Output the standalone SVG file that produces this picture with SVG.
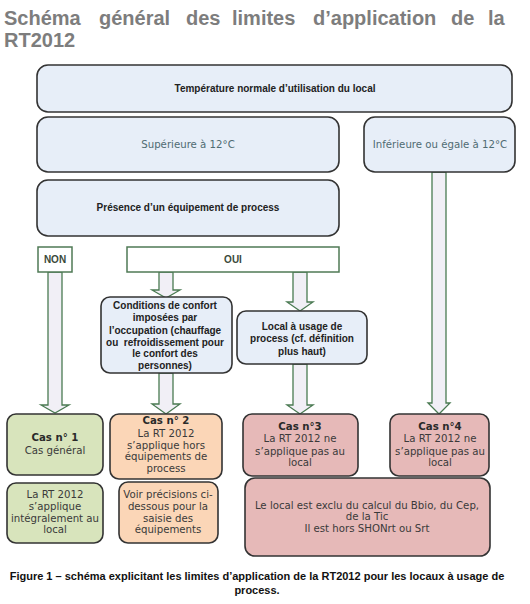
<svg xmlns="http://www.w3.org/2000/svg" width="530" height="604" viewBox="0 0 530 604">
<style>
.title{font-family:"Liberation Sans",Arial,sans-serif;font-weight:bold;font-size:20px;fill:#7d7d7d}
.bx{fill:#e7eef8;stroke:#333;stroke-width:1.6}
.g{fill:#d8e4bc;stroke:#333;stroke-width:1.6}
.o{fill:#fbd6b7;stroke:#333;stroke-width:1.6}
.r{fill:#e6b9b8;stroke:#333;stroke-width:1.6}
.sel{fill:#fff;stroke:#4f7a55;stroke-width:1.5}
.arr{fill:#f1eff6;stroke:#4a7a52;stroke-width:1.3;stroke-linejoin:miter}
.tb{font-family:"Liberation Sans",Arial,sans-serif;font-weight:bold;font-size:10px;fill:#222;text-anchor:middle}
.tv{font-family:"DejaVu Sans",Verdana,sans-serif;font-size:10.2px;fill:#4f6b72;text-anchor:middle}
.tc{font-family:"DejaVu Sans",Verdana,sans-serif;font-size:10.2px;fill:#3a3a3a;text-anchor:middle}
.tcb{font-family:"DejaVu Sans",Verdana,sans-serif;font-size:10.2px;font-weight:bold;fill:#2a2a2a;text-anchor:middle}
.sl{font-family:"Liberation Sans",Arial,sans-serif;font-weight:bold;font-size:10px;fill:#3b4a3a;text-anchor:middle}
.cap{font-family:"Liberation Sans",Arial,sans-serif;font-weight:bold;font-size:11px;fill:#111;text-anchor:middle}
</style>
<g id="title">
<text class="title" x="4" y="25">Schéma</text>
<text class="title" x="99" y="25">général</text>
<text class="title" x="186" y="25">des</text>
<text class="title" x="232" y="25">limites</text>
<text class="title" x="313" y="25">d’application</text>
<text class="title" x="451" y="25">de</text>
<text class="title" x="488" y="25">la</text>
<text class="title" x="4" y="47">RT2012</text>
</g>
<g id="connectors">
<path class="arr" d="M48,272 V405 H41 L55,413 L69,405 H62 V272 Z"/>
<path class="arr" d="M159,272 V290 H152 L166,298 L180,290 H173 V272 Z"/>
<path class="arr" d="M293,272 V302 H287 L300,311 L313,302 H307 V272 Z"/>
<path class="arr" d="M159,373 V404 H152 L166,414 L180,404 H173 V373 Z"/>
<path class="arr" d="M293,364 V405 H287 L300,414 L313,405 H307 V364 Z"/>
<path class="arr" d="M432,172 V403 H428 L439,414 L450,403 H446 V172 Z"/>
</g>
<g id="temperature">
<rect class="bx" x="37" y="65" width="475" height="47" rx="11"/>
<text class="tb" x="275" y="92">Température normale d’utilisation du local</text>
</g>
<g id="superieure">
<rect class="bx" x="37" y="117" width="302" height="55" rx="11"/>
<text class="tv" x="188" y="148">Supérieure à 12°C</text>
</g>
<g id="inferieure">
<rect class="bx" x="364" y="117" width="151" height="55" rx="11"/>
<text class="tv" x="440" y="148">Inférieure ou égale à 12°C</text>
</g>
<g id="presence">
<rect class="bx" x="37" y="180" width="302" height="56" rx="11"/>
<text class="tb" x="188" y="211">Présence d’un équipement de process</text>
</g>
<g id="non">
<rect class="sel" x="38" y="247" width="34" height="25"/>
<text class="sl" x="55" y="263">NON</text>
</g>
<g id="oui">
<rect class="sel" x="127" y="247" width="212" height="25"/>
<text class="sl" x="233" y="263">OUI</text>
</g>
<g id="conditions">
<rect class="bx" x="101" y="297" width="131" height="76" rx="9"/>
<text class="tb" x="165" y="309">Conditions de confort</text>
<text class="tb" x="165" y="321">imposées par</text>
<text class="tb" x="165" y="334">l’occupation (chauffage</text>
<text class="tb" x="165" y="346" xml:space="preserve">ou  refroidissement pour</text>
<text class="tb" x="165" y="357">le confort des</text>
<text class="tb" x="165" y="369">personnes)</text>
</g>
<g id="local">
<rect class="bx" x="237" y="311" width="130" height="53" rx="9"/>
<text class="tb" x="302" y="330">Local à usage de</text>
<text class="tb" x="302" y="342">process (cf. définition</text>
<text class="tb" x="302" y="355">plus haut)</text>
</g>
<g id="cas1">
<rect class="g" x="7" y="414" width="96" height="61" rx="9"/>
<text class="tcb" x="55" y="441">Cas n° 1</text>
<text class="tc" x="55" y="454">Cas général</text>
</g>
<g id="cas1detail">
<rect class="g" x="7" y="483" width="96" height="60" rx="9"/>
<text class="tc" x="55" y="498">La RT 2012</text>
<text class="tc" x="55" y="510">s’applique</text>
<text class="tc" x="55" y="522">intégralement au</text>
<text class="tc" x="55" y="533">local</text>
</g>
<g id="cas2">
<rect class="o" x="110" y="414" width="112" height="65" rx="9"/>
<text class="tcb" x="166" y="424">Cas n° 2</text>
<text class="tc" x="166" y="437">La RT 2012</text>
<text class="tc" x="166" y="449">s’applique hors</text>
<text class="tc" x="166" y="460">équipements de</text>
<text class="tc" x="166" y="472">process</text>
</g>
<g id="cas2detail">
<rect class="o" x="119" y="482" width="99" height="61" rx="9"/>
<text class="tc" x="168" y="498">Voir précisions ci-</text>
<text class="tc" x="168" y="510">dessous pour la</text>
<text class="tc" x="168" y="522">saisie des</text>
<text class="tc" x="168" y="533">équipements</text>
</g>
<g id="cas3">
<rect class="r" x="243" y="414" width="115" height="62" rx="9"/>
<text class="tcb" x="300" y="430">Cas n°3</text>
<text class="tc" x="300" y="442">La RT 2012 ne</text>
<text class="tc" x="300" y="455">s’applique pas au</text>
<text class="tc" x="300" y="466">local</text>
</g>
<g id="cas4">
<rect class="r" x="390" y="414" width="99" height="62" rx="9"/>
<text class="tcb" x="440" y="430">Cas n°4</text>
<text class="tc" x="440" y="442">La RT 2012 ne</text>
<text class="tc" x="440" y="455">s’applique pas au</text>
<text class="tc" x="440" y="466">local</text>
</g>
<g id="exclu">
<rect class="r" x="245" y="478" width="245" height="78" rx="10"/>
<text class="tc" x="367" y="509">Le local est exclu du calcul du Bbio, du Cep,</text>
<text class="tc" x="367" y="520">de la Tic</text>
<text class="tc" x="367" y="532">Il est hors SHONrt ou Srt</text>
</g>
<g id="caption">
<text class="cap" x="257" y="580">Figure 1 – schéma explicitant les limites d’application de la RT2012 pour les locaux à usage de</text>
<text class="cap" x="257" y="594">process.</text>
</g>
</svg>
